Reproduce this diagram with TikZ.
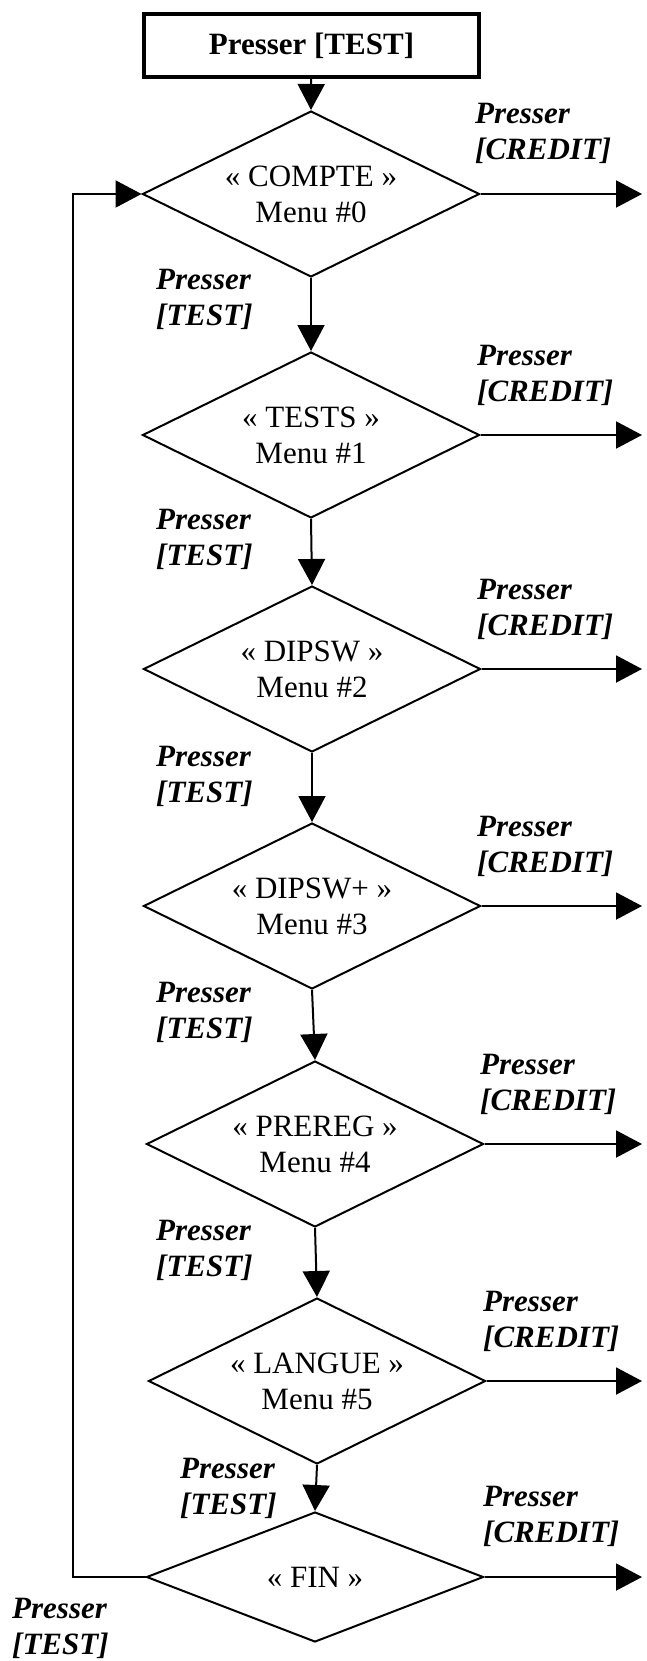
\documentclass[tikz,border=0pt]{standalone}
\usepackage{fontspec}
\setmainfont{Liberation Serif}
\usetikzlibrary{shapes.geometric,arrows.meta}
\begin{document}
\begin{tikzpicture}[x=1pt,y=-1pt,
  conn/.style={line width=2pt},
  arr/.style={line width=2pt,-{Triangle[length=26pt,width=27pt]}},
  startbox/.style={draw,line width=4pt,minimum width=335pt,minimum height=63pt,inner sep=0pt,
    font=\fontsize{31}{36}\selectfont\bfseries},
  menu/.style={draw,line width=2pt,diamond,aspect=2,inner sep=0pt,minimum width=337pt,
    minimum height=166pt,align=center,font=\fontsize{31}{36}\selectfont},
  lab/.style={inner sep=0pt,align=left,anchor=base west,
    font=\fontsize{31}{36}\selectfont\bfseries\itshape}]
\useasboundingbox[fill=white] (0,0) rectangle (647,1661);

\node[startbox] (start) at (311.5,45.5) {Presser [TEST]};

\node[menu] (d0) at (311,194) {«~COMPTE~»\\Menu \#0};
\node[menu] (d1) at (311,435) {«~TESTS~»\\Menu \#1};
\node[menu] (d2) at (312,669) {«~DIPSW~»\\Menu \#2};
\node[menu] (d3) at (312,906) {«~DIPSW+~»\\Menu \#3};
\node[menu] (d4) at (315,1144) {«~PREREG~»\\Menu \#4};
\node[menu] (d5) at (317,1381) {«~LANGUE~»\\Menu \#5};
\node[menu,minimum height=130pt] (fin) at (315,1577) {«~FIN~»};

% right exits
\coordinate (e0) at (642,194);
\coordinate (e1) at (642,435);
\coordinate (e2) at (642,669);
\coordinate (e3) at (642,906);
\coordinate (e4) at (642,1144);
\coordinate (e5) at (642,1381);
\coordinate (e6) at (642,1577);
\coordinate (lp) at (73,1577);

\draw[arr] (start) -- (d0.north);
\draw[arr] (d0.south) -- (d1.north);
\draw[arr] (d1.south) -- (d2.north);
\draw[arr] (d2.south) -- (d3.north);
\draw[arr] (d3.south) -- (d4.north);
\draw[arr] (d4.south) -- (d5.north);
\draw[arr] (d5.south) -- (fin.north);

\draw[arr] (d0.east) -- (e0);
\draw[arr] (d1.east) -- (e1);
\draw[arr] (d2.east) -- (e2);
\draw[arr] (d3.east) -- (e3);
\draw[arr] (d4.east) -- (e4);
\draw[arr] (d5.east) -- (e5);
\draw[arr] (fin.east) -- (e6);

\draw[arr] (fin.west) -- (lp) |- (d0.west);

% credit labels (anchor = baseline of second line)
\node[lab] (c0) at (475,160) {Presser\\{[CREDIT]}};
\node[lab] (c1) at (477,401) {Presser\\{[CREDIT]}};
\node[lab] (c2) at (477,635) {Presser\\{[CREDIT]}};
\node[lab] (c3) at (477,872) {Presser\\{[CREDIT]}};
\node[lab] (c4) at (480,1110) {Presser\\{[CREDIT]}};
\node[lab] (c5) at (483,1347) {Presser\\{[CREDIT]}};
\node[lab] (c6) at (483,1542) {Presser\\{[CREDIT]}};

% test labels
\node[lab] (t0) at (156,326) {Presser\\{[TEST]}};
\node[lab] (t1) at (156,565) {Presser\\{[TEST]}};
\node[lab] (t2) at (156,802) {Presser\\{[TEST]}};
\node[lab] (t3) at (156,1038) {Presser\\{[TEST]}};
\node[lab] (t4) at (156,1276) {Presser\\{[TEST]}};
\node[lab] (t5) at (180,1514) {Presser\\{[TEST]}};
\node[lab] (t6) at (12,1654) {Presser\\{[TEST]}};
\end{tikzpicture}
\end{document}
